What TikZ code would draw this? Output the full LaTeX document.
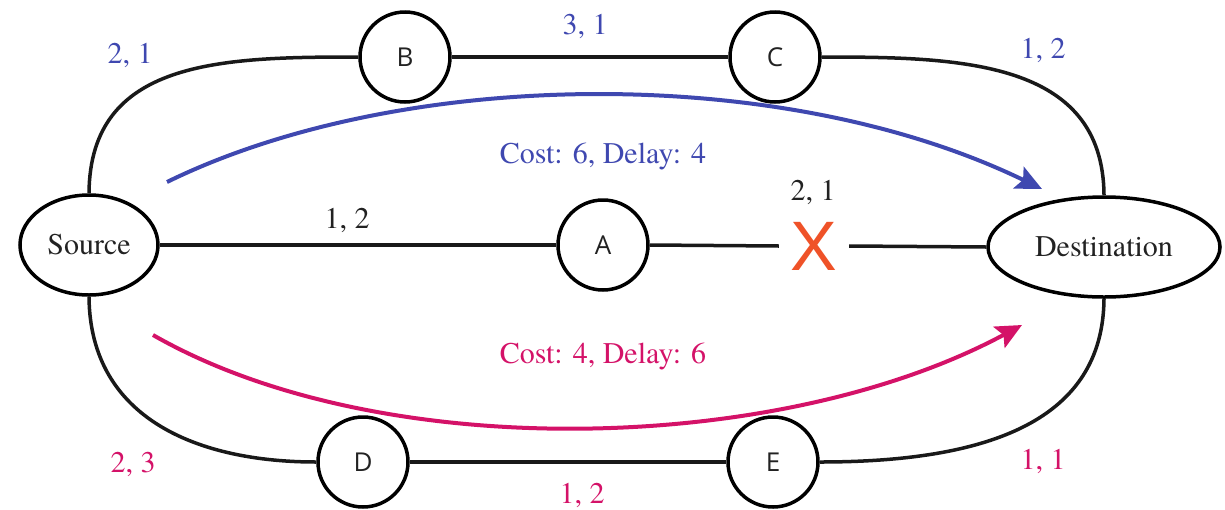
\documentclass[tikz,border=0pt]{standalone}
\usepackage{fontspec}
\newfontfamily\labfont{TeX Gyre Termes}
\newfontfamily\nodefont{Open Sans}
\newfontfamily\xfont{Liberation Sans}
\usetikzlibrary{arrows.meta,shapes.geometric}
\definecolor{pathblue}{RGB}{63,72,176}
\definecolor{pathpink}{RGB}{212,18,104}
\definecolor{xred}{RGB}{239,82,40}
\definecolor{labgray}{RGB}{34,34,34}
\tikzset{
  ell/.style={ellipse, draw=black, line width=3.5pt, inner sep=0pt, font=\labfont\fontsize{30}{30}\selectfont, text=labgray},
  rnode/.style={circle, draw=black, line width=3.5pt, minimum size=90pt, inner sep=0pt, font=\nodefont\fontsize{26}{26}\selectfont, text=labgray},
  link/.style={line width=3.5pt, draw=black!90},
  lab/.style={font=\labfont\fontsize{30}{30}\selectfont, inner sep=0pt},
  route/.style={line width=4pt, -{Stealth[length=26pt,width=24pt,inset=5pt]}},
}
\begin{document}
\begin{tikzpicture}[x=1pt,y=-1pt]
\useasboundingbox (0,0) rectangle (1225,509);
% nodes
\node[ell, minimum width=138pt, minimum height=100pt] (src) at (89,245) {Source};
\node[ell, minimum width=232pt, minimum height=100pt] (dst) at (1104,247) {Destination};
\node[rnode] (B) at (405,57) {B};
\node[rnode] (C) at (775,57) {C};
\node[rnode] (A) at (603,245) {A};
\node[rnode] (D) at (363,462) {D};
\node[rnode] (E) at (773,462) {E};
\node[font=\xfont\fontsize{70}{70}\selectfont, text=xred, inner sep=0pt, minimum width=70pt, minimum height=60pt] (X) at (814,246) {X};
% links
\draw[link] (src.east) -- (A.west);
\draw[link] (A.east) -- (X.west);
\draw[link] (X.east) -- (dst.west);
\draw[link] (B.east) -- (C.west);
\draw[link] (D.east) -- (E.west);
\draw[link] (src.north) .. controls (90,60) and (220,57) .. (B.west);
\draw[link] (C.east) .. controls (960,57) and (1103,60) .. (dst.north);
\draw[link] (src.south) .. controls (90,420) and (200,462) .. (D.west);
\draw[link] (E.east) .. controls (990,462) and (1103,420) .. (dst.south);
% routes
\coordinate (b0) at (167,182);
\coordinate (b1) at (1042,189);
\coordinate (m0) at (153,335);
\coordinate (m1) at (1022,325);
\draw[route, pathblue] (b0) .. controls (400,68) and (780,62) .. (b1);
\draw[route, pathpink] (m0) .. controls (380,465) and (780,455) .. (m1);
% labels
\node[lab, text=labgray] (l12a) at (347,220) {1, 2};
\node[lab, text=labgray] (l21x) at (813,192) {2, 1};
\node[lab, text=pathblue] (l21) at (130,55) {2, 1};
\node[lab, text=pathblue] (l31) at (585,26) {3, 1};
\node[lab, text=pathblue] (l12b) at (1043,50) {1, 2};
\node[lab, text=pathpink] (l23) at (133,464) {2, 3};
\node[lab, text=pathpink] (l12c) at (582,495) {1, 2};
\node[lab, text=pathpink] (l11) at (1043,461) {1, 1};
\node[lab, text=pathblue] (cb) at (603,157) {Cost: 6, Delay: 4};
\node[lab, text=pathpink] (cm) at (603,357) {Cost: 4, Delay: 6};
\end{tikzpicture}
\end{document}
